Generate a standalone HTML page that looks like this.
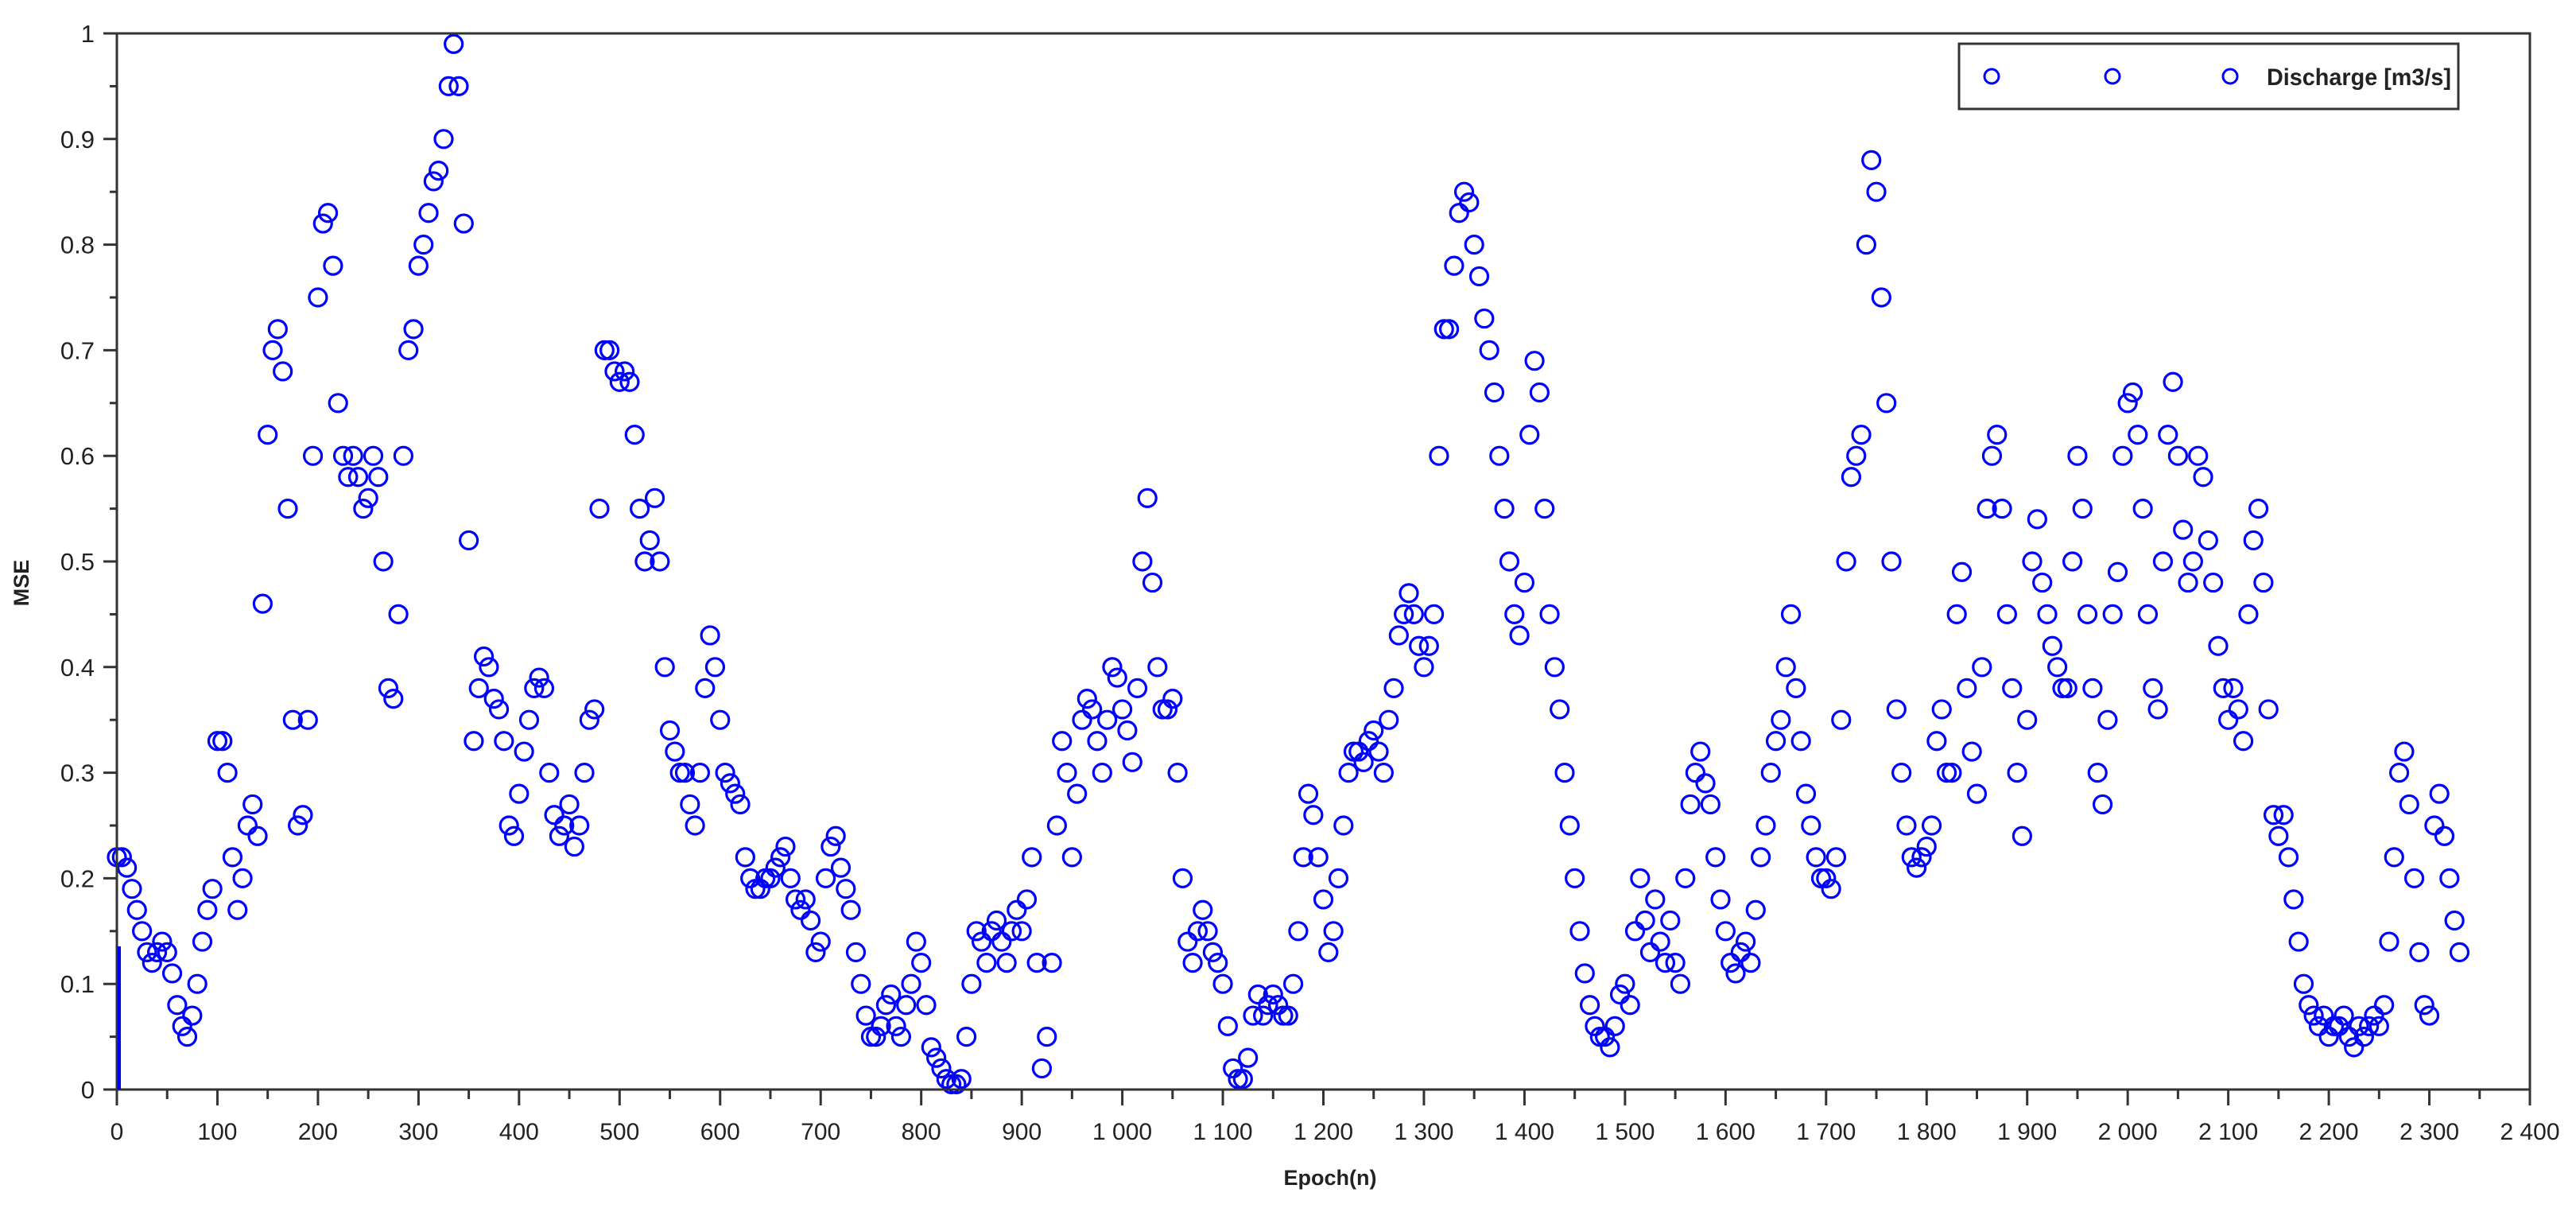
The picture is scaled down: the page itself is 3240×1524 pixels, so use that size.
<!DOCTYPE html>
<html><head><meta charset="utf-8"><title>MSE vs Epoch</title>
<style>html,body{margin:0;padding:0;background:#fff}svg{display:block}text{font-family:"Liberation Sans",sans-serif;fill:#222}</style>
</head><body>
<svg id="chart" width="3240" height="1524" viewBox="0 0 3240 1524" xmlns="http://www.w3.org/2000/svg">
<g id="ticks"></g>
<g id="marks"></g>
<rect x="147" y="42" width="3035" height="1328" fill="none" stroke="#333" stroke-width="3"/>
<line x1="150" y1="1190" x2="150" y2="1370" stroke="#0000ff" stroke-width="4"/>
<text x="1673" y="1490" font-size="27" font-weight="bold" text-anchor="middle">Epoch(n)</text>
<text x="0" y="0" font-size="27" font-weight="bold" text-anchor="middle" transform="translate(36 733) rotate(-90)">MSE</text>
<g>
<rect x="2464" y="55" width="628" height="82" fill="#fff" stroke="#333" stroke-width="3"/>
<circle cx="2505" cy="96" r="9" fill="none" stroke="#0000ff" stroke-width="3"/>
<circle cx="2657" cy="96" r="9" fill="none" stroke="#0000ff" stroke-width="3"/>
<circle cx="2805" cy="96" r="9" fill="none" stroke="#0000ff" stroke-width="3"/>
<text x="2851" y="107" font-size="30" font-weight="bold" textLength="232" lengthAdjust="spacingAndGlyphs">Discharge [m3/s]</text>
</g>
</svg>
<script>
const epochStep = 5;
const mse = [
.22,.22,.21,.19,.17,.15,.13,.12,.13,.14,.13,.11,.08,.06,.05,.07,.1,.14,.17,.19,
.33,.33,.3,.22,.17,.2,.25,.27,.24,.46,.62,.7,.72,.68,.55,.35,.25,.26,.35,.6,
.75,.82,.83,.78,.65,.6,.58,.6,.58,.55,.56,.6,.58,.5,.38,.37,.45,.6,.7,.72,
.78,.8,.83,.86,.87,.9,.95,.99,.95,.82,.52,.33,.38,.41,.4,.37,.36,.33,.25,.24,
.28,.32,.35,.38,.39,.38,.3,.26,.24,.25,.27,.23,.25,.3,.35,.36,.55,.7,.7,.68,
.67,.68,.67,.62,.55,.5,.52,.56,.5,.4,.34,.32,.3,.3,.27,.25,.3,.38,.43,.4,
.35,.3,.29,.28,.27,.22,.2,.19,.19,.2,.2,.21,.22,.23,.2,.18,.17,.18,.16,.13,
.14,.2,.23,.24,.21,.19,.17,.13,.1,.07,.05,.05,.06,.08,.09,.06,.05,.08,.1,.14,
.12,.08,.04,.03,.02,.01,.005,.005,.01,.05,.1,.15,.14,.12,.15,.16,.14,.12,.15,.17,
.15,.18,.22,.12,.02,.05,.12,.25,.33,.3,.22,.28,.35,.37,.36,.33,.3,.35,.4,.39,
.36,.34,.31,.38,.5,.56,.48,.4,.36,.36,.37,.3,.2,.14,.12,.15,.17,.15,.13,.12,
.1,.06,.02,.01,.01,.03,.07,.09,.07,.08,.09,.08,.07,.07,.1,.15,.22,.28,.26,.22,
.18,.13,.15,.2,.25,.3,.32,.32,.31,.33,.34,.32,.3,.35,.38,.43,.45,.47,.45,.42,
.4,.42,.45,.6,.72,.72,.78,.83,.85,.84,.8,.77,.73,.7,.66,.6,.55,.5,.45,.43,
.48,.62,.69,.66,.55,.45,.4,.36,.3,.25,.2,.15,.11,.08,.06,.05,.05,.04,.06,.09,
.1,.08,.15,.2,.16,.13,.18,.14,.12,.16,.12,.1,.2,.27,.3,.32,.29,.27,.22,.18,
.15,.12,.11,.13,.14,.12,.17,.22,.25,.3,.33,.35,.4,.45,.38,.33,.28,.25,.22,.2,
.2,.19,.22,.35,.5,.58,.6,.62,.8,.88,.85,.75,.65,.5,.36,.3,.25,.22,.21,.22,
.23,.25,.33,.36,.3,.3,.45,.49,.38,.32,.28,.4,.55,.6,.62,.55,.45,.38,.3,.24,
.35,.5,.54,.48,.45,.42,.4,.38,.38,.5,.6,.55,.45,.38,.3,.27,.35,.45,.49,.6,
.65,.66,.62,.55,.45,.38,.36,.5,.62,.67,.6,.53,.48,.5,.6,.58,.52,.48,.42,.38,
.35,.38,.36,.33,.45,.52,.55,.48,.36,.26,.24,.26,.22,.18,.14,.1,.08,.07,.06,.07,
.05,.06,.06,.07,.05,.04,.06,.05,.06,.07,.06,.08,.14,.22,.3,.32,.27,.2,.13,.08,
.07,.25,.28,.24,.2,.16,.13];
const yTicks = [0,0.1,0.2,0.3,0.4,0.5,0.6,0.7,0.8,0.9,1];
const yTickLabels = ["0","0.1","0.2","0.3","0.4","0.5","0.6","0.7","0.8","0.9","1"];
const xTicks = [0,100,200,300,400,500,600,700,800,900,1000,1100,1200,1300,1400,1500,1600,1700,1800,1900,2000,2100,2200,2300,2400];
const xTickLabels = ["0","100","200","300","400","500","600","700","800","900","1 000","1 100","1 200","1 300","1 400","1 500","1 600","1 700","1 800","1 900","2 000","2 100","2 200","2 300","2 400"];

const NS = "http://www.w3.org/2000/svg";
const X0 = 147, X1 = 3182, Y0 = 1370, Y1 = 42;
function xs(v){ return X0 + v / 2400 * (X1 - X0); }
function ys(v){ return Y0 - v * (Y0 - Y1); }
const tg = document.getElementById('ticks');
const mg = document.getElementById('marks');
function mk(tag, attrs, parent){ const e = document.createElementNS(NS, tag); for (const k in attrs) e.setAttribute(k, attrs[k]); parent.appendChild(e); return e; }

yTicks.forEach((v, i) => {
  const l = mk('line', {x1: X0 - 17, x2: X0, y1: ys(v), y2: ys(v), stroke: '#333', 'stroke-width': 3}, tg);
  
  
  const t = mk('text', {x: X0 - 28, y: ys(v) + 11, 'font-size': 31, 'text-anchor': 'end'}, tg);
  t.textContent = yTickLabels[i];
  
  
  if (i < yTicks.length - 1) {
    const m = mk('line', {x1: X0 - 9, x2: X0, y1: ys(v + 0.05), y2: ys(v + 0.05), stroke: '#333', 'stroke-width': 3}, tg);
    
    
  }
});
xTicks.forEach((v, i) => {
  const l = mk('line', {x1: xs(v), x2: xs(v), y1: Y0, y2: Y0 + 20, stroke: '#333', 'stroke-width': 3}, tg);
  
  
  const t = mk('text', {x: xs(v), y: Y0 + 63, 'font-size': 30, 'text-anchor': 'middle'}, tg);
  t.textContent = xTickLabels[i];
  
  
  if (i < xTicks.length - 1) {
    const m = mk('line', {x1: xs(v + 50), x2: xs(v + 50), y1: Y0, y2: Y0 + 12, stroke: '#333', 'stroke-width': 3}, tg);
    
    
  }
});
mse.forEach((v, i) => {
  const c = mk('circle', {cx: xs(i * epochStep), cy: ys(v), r: 11, fill: 'none', stroke: '#0000ff', 'stroke-width': 3.2}, mg);
  
  
});
</script>
</body></html>
